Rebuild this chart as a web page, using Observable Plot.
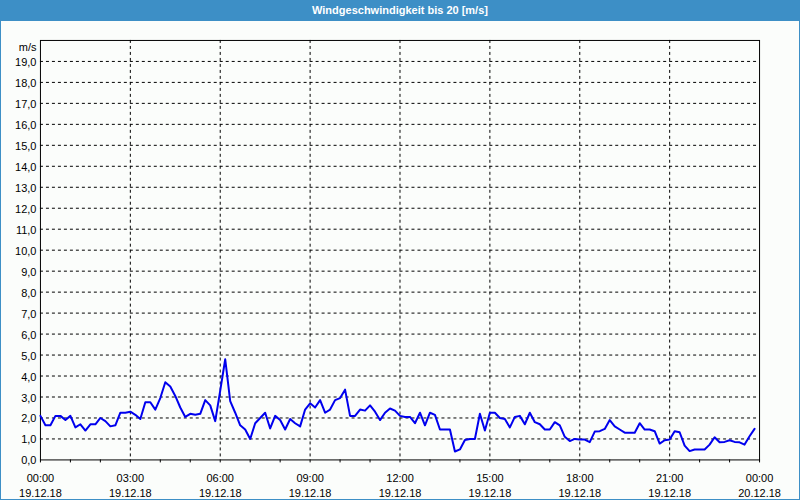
<!DOCTYPE html>
<html>
<head>
<meta charset="utf-8">
<script src="https://cdn.jsdelivr.net/npm/d3@7"></script>
<script src="https://cdn.jsdelivr.net/npm/@observablehq/plot@0.6"></script>
<style>
  body { margin: 0; }
  #wrap { position: relative; width: 800px; height: 500px; box-sizing: border-box; border: 1px solid #3d8fc6; background: #fbfdfb; overflow: hidden; }
  #title { position: absolute; left: -1px; top: -1px; width: 800px; height: 21px; background: #3d8fc6; color: #fff; font: bold 11px "Liberation Sans", sans-serif; text-align: center; line-height: 21px; }
  #chart { position: absolute; left: -1px; top: -1px; }
</style>
</head>
<body>
<div id="wrap">
  <div id="title">Windgeschwindigkeit bis 20 [m/s]</div>
  <div id="chart"></div>
</div>
<script>
// Wind speed, 10-minute samples, 19.12.18 00:00 – 23:50 (m/s)
const speeds = [
  2.1, 1.65, 1.65, 2.1, 2.1, 1.9, 2.1, 1.55, 1.7, 1.4,
  1.7, 1.7, 2.0, 1.85, 1.6, 1.65, 2.25, 2.25, 2.3, 2.15,
  1.95, 2.75, 2.75, 2.4, 2.95, 3.7, 3.5, 3.05, 2.5, 2.05,
  2.2, 2.15, 2.2, 2.85, 2.6, 1.85, 3.3,
  4.8, 2.8, 2.25, 1.65, 1.45, 1.0, 1.75, 2.0, 2.25, 1.5,
  2.1, 1.9, 1.45, 1.95, 1.75, 1.6, 2.4, 2.7, 2.5, 2.85,
  2.25, 2.4, 2.85, 2.95, 3.35, 2.1, 2.1, 2.4, 2.35, 2.6,
  2.3, 1.9, 2.25, 2.45, 2.35,
  2.1, 2.05, 2.05, 1.75, 2.25, 1.65, 2.25, 2.15, 1.45, 1.45,
  1.45, 0.4, 0.5, 0.95, 1.0, 1.0, 2.2, 1.4, 2.25, 2.25,
  2.0, 1.95, 1.55, 2.05, 2.1, 1.7, 2.25, 1.8, 1.7, 1.45,
  1.45, 1.8, 1.65, 1.1, 0.9, 1.0,
  0.97, 0.97, 0.85, 1.35, 1.37, 1.48, 1.9, 1.6, 1.45, 1.3,
  1.3, 1.3, 1.75, 1.45, 1.45, 1.37, 0.78, 0.94, 0.97, 1.37,
  1.32, 0.68, 0.42, 0.5, 0.5, 0.5, 0.73, 1.08, 0.84, 0.86,
  0.94, 0.86, 0.84, 0.73, 1.13, 1.48
];
const startTime = "2018-12-19T00:00:00Z";
const endTime = "2018-12-20T00:00:00Z";
const sampleMinutes = 10;

const xTickTimes = ["00:00", "03:00", "06:00", "09:00", "12:00", "15:00", "18:00", "21:00", "00:00"];
const xTickDates = ["19.12.18", "19.12.18", "19.12.18", "19.12.18", "19.12.18", "19.12.18", "19.12.18", "19.12.18", "20.12.18"];
const yTickLabels = ["0,0", "1,0", "2,0", "3,0", "4,0", "5,0", "6,0", "7,0", "8,0", "9,0",
  "10,0", "11,0", "12,0", "13,0", "14,0", "15,0", "16,0", "17,0", "18,0", "19,0"];
const yUnit = "m/s";

const t0 = new Date(startTime);
const t1 = new Date(endTime);
const data = speeds.map((v, i) => ({ t: new Date(+t0 + i * sampleMinutes * 60000), v }));
const hourTicks = d3.utcHour.range(t0, new Date(+t1 + 1));
const majorTicks = xTickTimes.map((_, k) => new Date(+t0 + k * 3 * 3600000));
const innerMajor = majorTicks.slice(1, -1);
const yTicks = yTickLabels.map((_, i) => i);
const yGrid = yTicks.slice(1);
const fmtX = d => { const k = Math.round((d - t0) / (3 * 3600000)); return xTickTimes[k] + "\n" + xTickDates[k]; };

const chart = Plot.plot({
  width: 800,
  height: 500,
  marginLeft: 40,
  marginRight: 40,
  marginTop: 40,
  marginBottom: 40,
  style: { fontFamily: "'Liberation Sans', sans-serif", fontSize: "11px", background: "transparent", color: "#000", overflow: "visible" },
  x: { type: "utc", domain: [t0, t1], label: null },
  y: { domain: [0, 20], label: null },
  marks: [
    Plot.gridY(yGrid, { stroke: "#000", strokeOpacity: 1, strokeDasharray: "3,3" }),
    Plot.gridX(innerMajor, { stroke: "#000", strokeOpacity: 1, strokeDasharray: "3,3" }),
    Plot.frame({ stroke: "#000" }),
    Plot.axisX({ ticks: hourTicks, tickSize: 3, tickFormat: () => "" }),
    Plot.axisX({ ticks: majorTicks, tickSize: 0, tickPadding: 11, tickFormat: fmtX, lineHeight: 15 / 11 }),
    Plot.axisY({ ticks: yTicks, tickSize: 0, tickPadding: 4, tickFormat: d => yTickLabels[d], dy: 1 }),
    Plot.text([yUnit], { text: d => d, frameAnchor: "top-left", dx: -4, dy: 7, textAnchor: "end", lineAnchor: "middle" }),
    Plot.line(data, { x: "t", y: "v", stroke: "#0000ee", strokeWidth: 2 })
  ]
});
document.getElementById("chart").appendChild(chart);
</script>
</body>
</html>
